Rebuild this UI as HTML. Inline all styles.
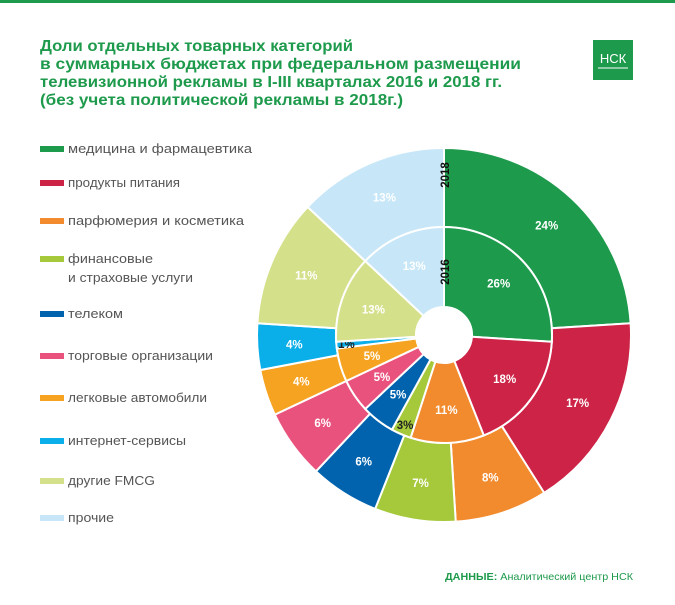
<!DOCTYPE html>
<html><head><meta charset="utf-8"><style>
body{margin:0;background:#fff;width:675px;height:600px;overflow:hidden;font-family:"Liberation Sans",sans-serif;}
</style></head><body>
<svg width="675" height="600">
<rect x="0" y="0" width="675" height="3" fill="#1e9a4c"/>
<g font-weight="bold" font-size="15.5" fill="#1e9a4c">
<text x="40" y="51" textLength="313" lengthAdjust="spacingAndGlyphs">Доли отдельных товарных категорий</text>
<text x="40" y="69" textLength="481" lengthAdjust="spacingAndGlyphs">в суммарных бюджетах при федеральном размещении</text>
<text x="40" y="87" textLength="462" lengthAdjust="spacingAndGlyphs">телевизионной рекламы в I-III кварталах 2016 и 2018 гг.</text>
<text x="40" y="105" textLength="363" lengthAdjust="spacingAndGlyphs">(без учета политической рекламы в 2018г.)</text>
</g>
<g>
<rect x="593" y="40" width="40" height="40" fill="#1e9a4c"/>
<text x="613" y="63" text-anchor="middle" fill="#fff" font-size="13">НСК</text>
<line x1="598" y1="68" x2="628" y2="68" stroke="#fff" stroke-width="1"/>
</g>
<g id="legend"></g>
<g id="pie"></g>
<text x="445" y="580" font-size="10.5" fill="#1e9a4c" textLength="188" lengthAdjust="spacingAndGlyphs"><tspan font-weight="bold">ДАННЫЕ:</tspan> Аналитический центр НСК</text>
</svg>
<script>
const categories=["медицина и фармацевтика","продукты питания","парфюмерия и косметика","финансовые|и страховые услуги","телеком","торговые организации","легковые автомобили","интернет-сервисы","другие FMCG","прочие"];
const colors=["#1e9a4c","#cc2346","#f28a2e","#a5c93a","#0163ae","#e9527d","#f6a321","#0aaee8","#d4e08a","#c7e7f8"];
const values2016=[26,18,11,3,5,5,5,1,13,13];
const values2018=[24,17,8,7,6,6,4,4,11,13];
const legendY=[149,183,221,259,314,356,398,441,481,518];
const legendW=[[184],[112],[176],[85,125],[55],[145],[139],[118],[87],[46]];
const NS="http://www.w3.org/2000/svg";
const lg=document.getElementById('legend');
categories.forEach((c,i)=>{
 const r=document.createElementNS(NS,'rect');
 r.setAttribute('x',40);r.setAttribute('y',legendY[i]-3);r.setAttribute('width',24);r.setAttribute('height',6);r.setAttribute('fill',colors[i]);
 
 
 lg.appendChild(r);
 c.split('|').forEach((p,j)=>{
  const t=document.createElementNS(NS,'text');
  t.setAttribute('x',68);t.setAttribute('y',legendY[i]+4+j*19);t.setAttribute('font-size','12.5');t.setAttribute('fill','#555');
  t.setAttribute('textLength',legendW[i][j]);t.setAttribute('lengthAdjust','spacingAndGlyphs');
  t.textContent=p;
  
  
  lg.appendChild(t);
 });
});
const cx=444,cy=335;
const pie=document.getElementById('pie');
function pt(r,a){return [cx+r*Math.sin(a),cy-r*Math.cos(a)];}
function ring(vals,r0,r1,lr,name){
 const tot=vals.reduce((a,b)=>a+b,0);let a=0;
 vals.forEach((v,i)=>{
  const a0=a/tot*2*Math.PI;a+=v;const a1=a/tot*2*Math.PI;
  const [x0,y0]=pt(r1,a0),[x1,y1]=pt(r1,a1),[x2,y2]=pt(r0,a1),[x3,y3]=pt(r0,a0);
  const lf=(a1-a0)>Math.PI?1:0;
  const p=document.createElementNS(NS,'path');
  p.setAttribute('d',`M${x0},${y0}A${r1},${r1} 0 ${lf} 1 ${x1},${y1}L${x2},${y2}A${r0},${r0} 0 ${lf} 0 ${x3},${y3}Z`);
  p.setAttribute('fill',colors[i]);p.setAttribute('stroke','#fff');p.setAttribute('stroke-width','2');
  
  
  pie.appendChild(p);
  const am=(a0+a1)/2;let rr=lr;if(v<=3)rr=r1-10;
  const [lx,ly]=pt(rr,am);
  const t=document.createElementNS(NS,'text');
  t.setAttribute('x',lx);t.setAttribute('y',ly+4);t.setAttribute('text-anchor','middle');t.setAttribute('font-size','11.5');t.setAttribute('font-weight','bold');
  t.setAttribute('fill',(v<=3)?'#222':'#fff');
  t.textContent=v+'%';
  
  
  pie.appendChild(t);
 });
}
ring(values2018,108,187,150,'ring-2018');
ring(values2016,28,108,75,'ring-2016');
[['2018',175],['2016',272]].forEach(([s,y])=>{
 const t=document.createElementNS(NS,'text');
 t.setAttribute('transform',`translate(${cx+5},${y}) rotate(-90)`);t.setAttribute('text-anchor','middle');t.setAttribute('font-size','11.5');t.setAttribute('font-weight','bold');t.setAttribute('fill','#111');
 t.textContent=s;
 
 
 pie.appendChild(t);
});
</script>
</body></html>
